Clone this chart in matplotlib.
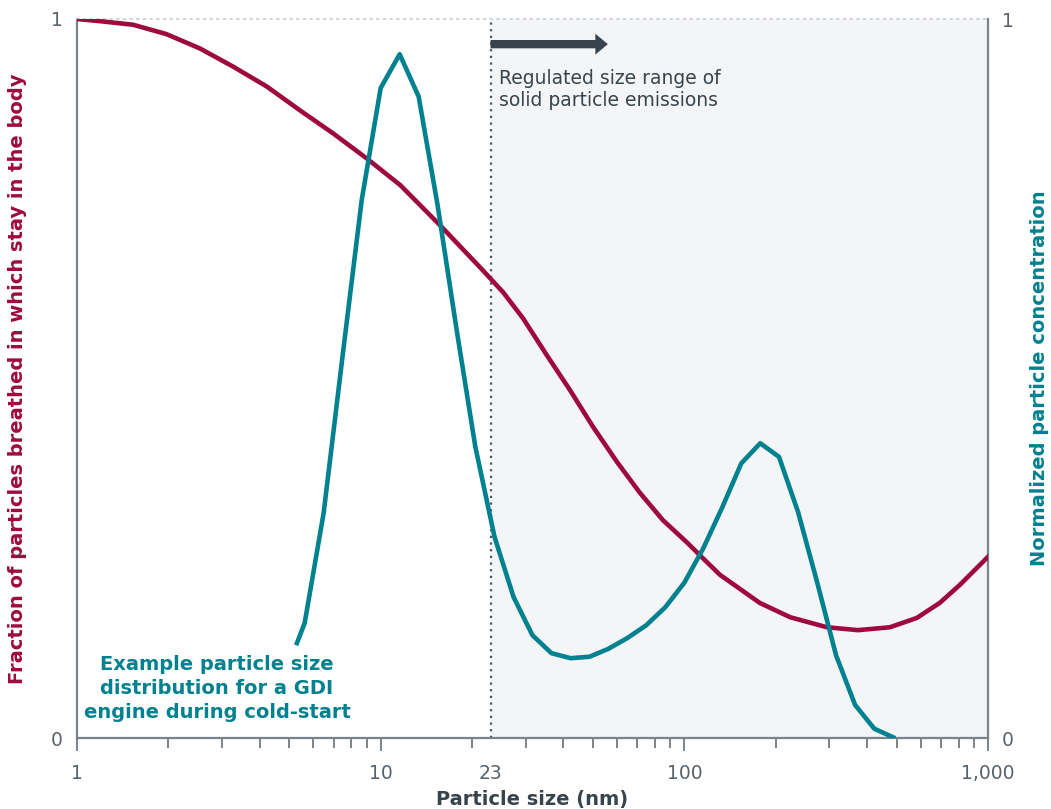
import numpy as np
import matplotlib
matplotlib.use("Agg")
import matplotlib.pyplot as plt
from matplotlib.ticker import FixedLocator, NullFormatter

plt.rcParams['font.family'] = ['DejaVu Sans']

# fraction of breathed particles that stay in the body (left axis)
dep_size = [1.0, 1.19, 1.53, 1.97, 2.54, 3.26, 4.22, 5.42, 6.97, 9.0, 11.6, 15.7,
            21.2, 25.3, 29.4, 35.3, 42.0, 50.0, 60.0, 71.4, 85.0, 102, 112.6, 131,
            177, 223, 295, 373, 475, 583, 694, 808, 1000]
dep_frac = [1.0, 0.997, 0.992, 0.979, 0.959, 0.934, 0.906, 0.873, 0.841, 0.806, 0.769, 0.713,
            0.655, 0.620, 0.584, 0.532, 0.484, 0.433, 0.384, 0.341, 0.303, 0.272, 0.254, 0.227,
            0.188, 0.168, 0.154, 0.150, 0.154, 0.167, 0.188, 0.213, 0.252]

# GDI cold-start particle size distribution (right axis)
psd_size = [5.30, 5.62, 6.49, 7.50, 8.66, 10.0, 11.55, 13.34, 15.4, 17.8, 20.5, 23.7,
            27.4, 31.6, 36.5, 42.2, 48.7, 56.2, 64.9, 75.0, 86.6, 100, 115.5, 133.4,
            154, 177.8, 205, 237, 274, 316, 365, 422, 487]
psd_conc = [0.132, 0.160, 0.313, 0.533, 0.748, 0.904, 0.951, 0.892, 0.741, 0.567, 0.405, 0.280,
            0.196, 0.143, 0.118, 0.111, 0.113, 0.124, 0.139, 0.157, 0.182, 0.216, 0.264, 0.321,
            0.382, 0.410, 0.391, 0.314, 0.216, 0.115, 0.046, 0.013, 0.001]

xticks = [1, 10, 23, 100, 1000]
xticklabels = ['1', '10', '23', '100', '1,000']
cutoff = 23

red = '#9e0a3d'
teal = '#00818f'
grey = '#7b8389'
txt = '#59626a'
dark = '#38444c'

fig = plt.figure(figsize=(10.51, 8.09), dpi=100)
ax = fig.add_axes([77/1051, 1-738/809, (988-77)/1051, (738-19)/809])
ax.set_xscale('log')
ax.set_xlim(1, 1000)
ax.set_ylim(0, 1)

ax.axvspan(cutoff, 1000, color='#f3f5f7', zorder=0, lw=0)
ax.axvline(cutoff, color='#4a545c', lw=1.6, ls=(0, (1, 2)), zorder=1)

ax.plot(dep_size, dep_frac, color=red, lw=3.3, solid_joinstyle='round', zorder=3)

for s in ['left', 'right', 'bottom']:
    ax.spines[s].set_color(grey)
    ax.spines[s].set_linewidth(1.6)
ax.spines['top'].set_color('#c9cdd1')
ax.spines['top'].set_linestyle((0, (1, 3)))
ax.spines['top'].set_linewidth(1.2)

ax.xaxis.set_major_locator(FixedLocator(xticks))
ax.set_xticklabels(xticklabels)
minor = [m * d for d in [1, 10, 100] for m in range(2, 10)]
ax.xaxis.set_minor_locator(FixedLocator(minor))
ax.xaxis.set_minor_formatter(NullFormatter())
ax.tick_params(axis='x', which='major', length=9, width=1.4, color=grey,
               labelsize=13.5, labelcolor=txt, pad=10)
ax.tick_params(axis='x', which='minor', length=7, width=1.4, color=grey)
ax.xaxis.get_major_ticks()[2].tick1line.set_visible(False)

ax.set_yticks([0, 1])
ax.set_yticklabels(['0', '1'])
ax.tick_params(axis='y', length=0, labelsize=13.5, labelcolor=txt, pad=10)

ax.set_xlabel('Particle size (nm)', fontsize=14, color=dark, fontweight='bold')
ax.xaxis.label.set_va('center')
ax.xaxis.set_label_coords(0.5, -0.086)
ax.set_ylabel('Fraction of particles breathed in which stay in the body', fontsize=14,
              color=red, fontweight='bold')
ax.yaxis.label.set_va('center')
ax.yaxis.set_label_coords(-0.065, 0.5)

ax2 = ax.twinx()
ax2.set_ylim(0, 1)
ax2.plot(psd_size, psd_conc, color=teal, lw=3.3, zorder=4)
ax2.set_yticks([0, 1])
ax2.set_yticklabels(['0', '1'])
ax2.tick_params(axis='y', length=0, labelsize=13.5, labelcolor=txt, pad=10)
for s in ax2.spines.values():
    s.set_visible(False)
ax2.set_ylabel('Normalized particle concentration', fontsize=14, color=teal,
               fontweight='bold')
ax2.yaxis.label.set_va('center')
ax2.yaxis.set_label_coords(1.057, 0.5)

# regulated range arrow + label
ax.annotate('', xy=(56, 0.965), xytext=(cutoff, 0.965),
            arrowprops=dict(arrowstyle='simple,head_width=1.5,head_length=0.9,tail_width=0.6',
                            color=dark, lw=0, shrinkA=0, shrinkB=0), zorder=5)
ax.annotate('Regulated size range of\nsolid particle emissions', xy=(cutoff, 0.93),
            xytext=(6, 0), textcoords='offset points', ha='left', va='top',
            fontsize=13.5, color=dark, linespacing=1.2)

ax.text(2.89, 0.116, 'Example particle size\ndistribution for a GDI\nengine during cold-start',
        ha='center', va='top', fontsize=14, color=teal, fontweight='bold',
        linespacing=1.35)

fig.savefig('out.png', dpi=100)
